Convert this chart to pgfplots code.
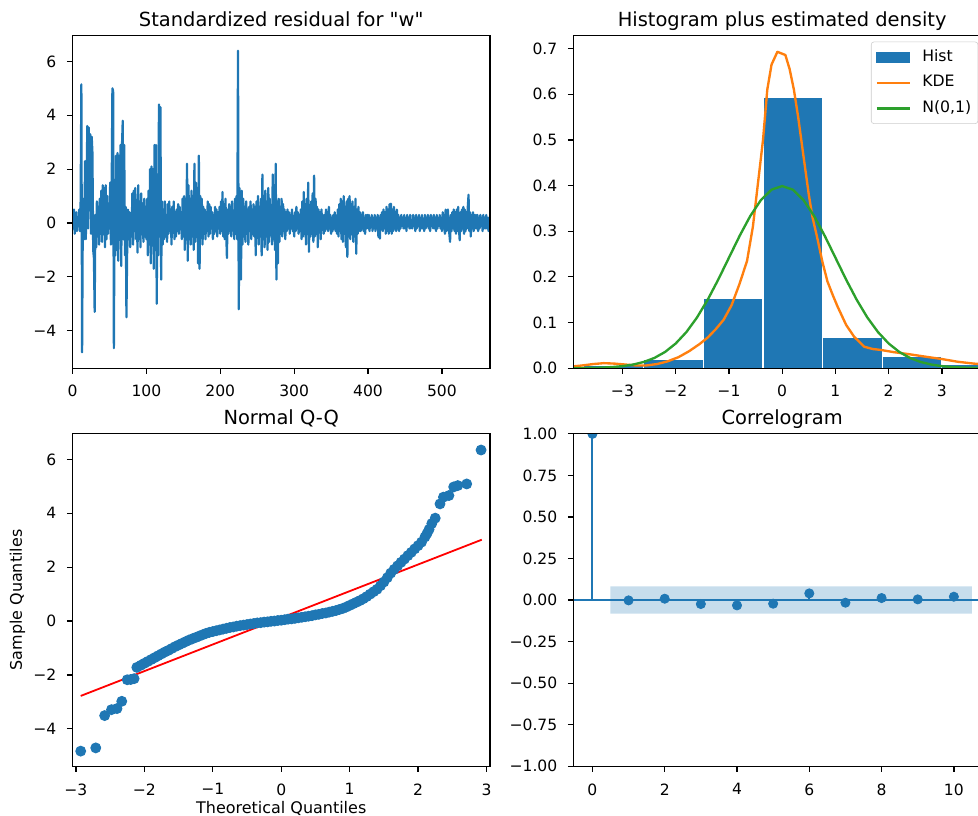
\documentclass[border=0pt]{standalone}
\usepackage{fontspec}
\setmainfont{DejaVu Sans}
\usepackage{pgfplots}
\pgfplotsset{compat=1.18}
\definecolor{tabblue}{RGB}{31,119,180}
\definecolor{taborange}{RGB}{255,127,14}
\definecolor{tabgreen}{RGB}{44,160,44}
\definecolor{mplred}{RGB}{255,0,0}
\newcommand{\dq}{\XeTeXglyph\XeTeXglyphindex "quotedbl" }
\pgfplotsset{mpl/.style={
  scale only axis, width=300.6pt, height=239.3pt, anchor=south west,
  axis line style={black, line width=0.9pt},
  axis on top,
  tick align=outside, tick pos=left,
  major tick length=4pt,
  every tick/.style={black, line width=0.9pt},
  ticklabel style={font=\fontsize{11.2}{13}\selectfont, text=black},
  xticklabel shift=4.9pt, yticklabel shift=4.1pt,
  /pgf/number format/assume math mode=true,
  scaled ticks=false, minor tick num=0,
  every axis title/.style={font=\fontsize{14}{16}\selectfont, at={(axis description cs:0.5,1.0272)}, anchor=base},
  label style={font=\fontsize{11.5}{13}\selectfont},
}}
\begin{document}
\begin{tikzpicture}
\useasboundingbox (0,0) rectangle (704.2pt,587.5pt);
\clip (0,0) rectangle (704.2pt,587.5pt);

% ---------------- Standardized residual ----------------
\begin{axis}[mpl, at={(52.2pt,322.4pt)},
  xmin=0, xmax=565, ymin=-5.39, ymax=6.95,
  xtick={0,100,200,300,400,500},
  ytick={-4,-2,0,2,4,6}, yticklabels={−4,−2,0,2,4,6},
  title={Standardized residual for \dq w\dq}]
\addplot[tabblue, line width=1.6pt, line join=round] table[row sep=\\, header=false, x expr=\coordindex, y index=0] {
0.3\\ -0.2\\ 0.5\\ -0.4\\ 0.1\\ 0.4\\ -0.3\\ 0.2\\ -0.1\\ 0.5\\
-0.3\\ 0.8\\ 5.15\\ -4.8\\ 0.4\\ 0.9\\ -0.6\\ 2.3\\ -0.6\\ 0.9\\
3.6\\ -0.2\\ 3.55\\ 0.7\\ 3.3\\ -0.4\\ 3.2\\ 2.6\\ -1.0\\ -1.3\\
-3.3\\ 0.3\\ -0.9\\ 0.8\\ -0.5\\ 0.6\\ -0.8\\ 0.9\\ -0.4\\ 1.2\\
-0.7\\ 1.4\\ -0.3\\ 1.3\\ -0.9\\ 1.4\\ -0.6\\ 1.0\\ -0.4\\ 0.7\\
-0.2\\ 1.5\\ -0.8\\ 1.2\\ 5.0\\ 4.9\\ -4.65\\ 0.8\\ -1.2\\ 2.5\\
-1.0\\ 2.6\\ -1.4\\ 2.5\\ 0.4\\ 2.9\\ -1.6\\ 2.9\\ 3.8\\ -0.6\\
2.9\\ -1.2\\ 0.6\\ -3.5\\ -1.0\\ 0.5\\ -0.6\\ 0.4\\ -0.9\\ 0.3\\
-0.5\\ 1.1\\ -0.8\\ 1.2\\ -0.3\\ 1.3\\ -0.6\\ 0.7\\ -1.1\\ 1.4\\
-0.4\\ 0.8\\ -0.9\\ 1.1\\ -0.3\\ 0.5\\ -0.7\\ 0.9\\ -0.5\\ 0.6\\
-0.6\\ 0.9\\ -1.2\\ 1.2\\ -0.8\\ 2.0\\ -1.5\\ 2.1\\ -0.6\\ 2.0\\
-1.7\\ 2.9\\ -1.0\\ 2.9\\ -3.0\\ 1.5\\ -1.2\\ 4.4\\ -0.5\\ 4.3\\
-2.1\\ 0.8\\ -0.8\\ 0.5\\ -0.6\\ 0.8\\ -0.5\\ 0.3\\ -0.7\\ 0.7\\
-0.4\\ 0.8\\ -0.3\\ 0.5\\ -0.8\\ 0.6\\ -0.2\\ 0.8\\ -0.6\\ 0.4\\
-0.5\\ 0.5\\ -0.3\\ 0.7\\ -0.4\\ 0.6\\ -0.2\\ 0.4\\ -0.6\\ 0.9\\
-0.5\\ 1.0\\ -1.0\\ 0.9\\ -0.4\\ 2.2\\ -1.4\\ 1.4\\ -0.6\\ 0.9\\
-0.8\\ 1.2\\ -0.5\\ 1.0\\ -1.0\\ 2.2\\ -0.7\\ 1.5\\ -0.4\\ 1.3\\
-1.5\\ 2.5\\ -1.7\\ 1.0\\ -0.5\\ 0.9\\ -0.8\\ 0.6\\ -0.4\\ 0.5\\
-0.6\\ 0.4\\ -0.3\\ 0.8\\ -0.5\\ 0.7\\ -0.4\\ 0.6\\ -0.2\\ 0.4\\
-0.6\\ 0.3\\ -0.4\\ 0.6\\ -0.3\\ 0.5\\ -0.5\\ 0.4\\ -0.2\\ 0.6\\
-0.4\\ 0.8\\ -0.3\\ 1.15\\ -0.5\\ 0.7\\ -0.6\\ 0.9\\ -0.3\\ -1.3\\
0.5\\ -0.4\\ 0.7\\ -0.3\\ 0.6\\ -0.5\\ 0.8\\ -0.2\\ 0.4\\ -0.6\\
0.9\\ -0.4\\ 1.0\\ -0.6\\ 6.4\\ -3.2\\ 1.3\\ -1.0\\ -2.1\\ 1.2\\
-0.8\\ 0.9\\ -0.5\\ 0.6\\ -0.7\\ 0.8\\ -0.4\\ 0.5\\ -0.8\\ 0.6\\
-0.3\\ 0.8\\ -0.6\\ 0.5\\ -0.4\\ 0.7\\ -0.5\\ 0.6\\ -1.2\\ 0.8\\
-0.4\\ 1.0\\ -0.8\\ 0.6\\ -0.5\\ 0.9\\ -1.2\\ 1.8\\ -0.6\\ 1.0\\
-0.9\\ 1.2\\ -0.5\\ 0.8\\ -1.0\\ 1.3\\ -0.7\\ 0.9\\ -0.4\\ 0.6\\
-0.8\\ 1.8\\ -0.6\\ 1.4\\ -1.0\\ 2.2\\ -2.1\\ 0.8\\ -1.5\\ 0.9\\
-0.7\\ 0.6\\ -0.4\\ 0.9\\ -0.5\\ 0.7\\ -0.3\\ 0.5\\ -0.6\\ 0.4\\
-0.3\\ 0.5\\ -0.2\\ 0.4\\ -0.4\\ 0.3\\ -0.2\\ 0.5\\ -0.3\\ 0.2\\
-0.5\\ 0.4\\ -0.3\\ 0.6\\ -0.2\\ 0.4\\ -0.4\\ 0.3\\ -0.3\\ 0.5\\
-0.6\\ 0.8\\ -0.5\\ 1.15\\ -0.4\\ 0.7\\ -0.8\\ 0.9\\ -0.3\\ 1.5\\
-1.07\\ 0.6\\ -0.5\\ 0.8\\ -0.4\\ 1.1\\ -0.7\\ 1.76\\ -0.5\\ 0.9\\
-0.4\\ 0.6\\ -0.9\\ 0.5\\ -0.3\\ 0.4\\ -0.6\\ 0.5\\ -0.2\\ 0.3\\
-0.4\\ 0.3\\ -0.3\\ 0.5\\ -0.2\\ 0.4\\ -0.3\\ 0.6\\ -0.2\\ 0.3\\
-0.4\\ 0.2\\ -0.3\\ 0.3\\ -0.2\\ 0.4\\ -0.3\\ 0.2\\ -0.4\\ 0.5\\
-0.5\\ 0.7\\ -0.3\\ 0.9\\ -0.6\\ 0.8\\ -0.7\\ 1.0\\ -0.4\\ 0.6\\
-0.9\\ 0.8\\ -1.26\\ 0.9\\ -0.5\\ 1.0\\ -0.6\\ 0.7\\ -0.4\\ 0.8\\
-0.7\\ 0.6\\ -0.5\\ 0.9\\ -1.14\\ 0.5\\ -0.4\\ 0.6\\ -0.3\\ 0.4\\
-0.3\\ 0.3\\ -0.2\\ 0.4\\ -0.3\\ 0.2\\ -0.4\\ 0.3\\ -0.2\\ 0.3\\
-0.2\\ 0.3\\ -0.3\\ 0.2\\ -0.1\\ 0.3\\ -0.3\\ 0.2\\ -0.2\\ 0.3\\
-0.3\\ 0.2\\ -0.2\\ 0.3\\ -0.52\\ 0.2\\ -0.58\\ 0.3\\ -0.2\\ 0.4\\
-0.3\\ 0.5\\ -0.2\\ 0.4\\ -0.4\\ 0.6\\ -0.3\\ 0.5\\ -0.4\\ 0.7\\
-0.3\\ 0.72\\ -0.4\\ 0.5\\ -0.3\\ 0.6\\ -0.2\\ 0.4\\ -0.3\\ 0.5\\
-0.2\\ 0.3\\ -0.3\\ 0.2\\ -0.2\\ 0.3\\ -0.1\\ 0.2\\ -0.2\\ 0.3\\
-0.2\\ 0.2\\ -0.3\\ 0.3\\ -0.1\\ 0.2\\ -0.2\\ 0.3\\ -0.2\\ 0.1\\
-0.2\\ 0.3\\ -0.1\\ 0.2\\ -0.3\\ 0.3\\ -0.2\\ 0.2\\ -0.1\\ 0.3\\
-0.3\\ 0.2\\ -0.2\\ 0.3\\ -0.2\\ 0.1\\ -0.3\\ 0.3\\ -0.2\\ 0.2\\
-0.1\\ 0.3\\ -0.2\\ 0.2\\ -0.3\\ 0.3\\ -0.1\\ 0.2\\ -0.2\\ 0.3\\
-0.2\\ 0.2\\ -0.3\\ 0.3\\ -0.2\\ 0.2\\ -0.1\\ 0.3\\ -0.2\\ 0.2\\
-0.3\\ 0.4\\ -0.2\\ 0.3\\ -0.4\\ 0.5\\ -0.3\\ 0.4\\ 0.5\\ -0.2\\
-0.4\\ -0.7\\ 0.3\\ -0.3\\ 0.4\\ -0.2\\ 0.5\\ -0.3\\ 0.4\\ -0.4\\
0.5\\ -0.3\\ 0.6\\ -0.2\\ -0.64\\ 0.4\\ -0.3\\ 0.5\\ -0.2\\ 0.6\\
-0.4\\ 0.5\\ -0.3\\ 0.4\\ -0.2\\ 0.6\\ 1.05\\ -0.3\\ 0.4\\ -0.5\\
0.3\\ -0.2\\ 0.4\\ -0.3\\ 0.3\\ -0.2\\ 0.3\\ -0.2\\ 0.3\\ -0.3\\
0.2\\ -0.2\\ 0.3\\ -0.1\\ 0.2\\ -0.3\\ 0.3\\ -0.2\\ 0.2\\ -0.2\\
0.3\\ -0.2\\ 0.2\\ -0.3\\ 0.2\\ -0.1\\
};
\end{axis}

% ---------------- Histogram plus estimated density ----------------
\begin{axis}[mpl, at={(412.9pt,322.4pt)},
  xmin=-3.92, xmax=3.92, ymin=0, ymax=0.728,
  xtick={-3,-2,-1,0,1,2,3}, xticklabels={−3,−2,−1,0,1,2,3},
  ytick={0,0.1,0.2,0.3,0.4,0.5,0.6,0.7},
  yticklabels={0.0,0.1,0.2,0.3,0.4,0.5,0.6,0.7},
  title={Histogram plus estimated density},
  legend cell align=left,
  legend style={at={(axis description cs:0.7126,1)}, anchor=north west, yshift=-4.2pt,
    draw=black!20, rounded corners=2pt, inner xsep=3.3pt, inner ysep=4pt,
    row sep=4.4pt, font=\fontsize{11.3}{13}\selectfont,
    nodes={text height=8.3pt, text depth=2.7pt, inner sep=1.5pt}}]
\addplot[ybar interval, fill=tabblue, draw=white, line width=0.8pt,
  legend image code/.code={\fill[tabblue, sharp corners] (0pt,-3.6pt) rectangle (23.5pt,3.6pt); \path (30.3pt,0pt);}]
  coordinates {(-4.85,0.0032) (-3.73,0.0063) (-2.61,0.020) (-1.48,0.153) (-0.36,0.594)
  (0.76,0.068) (1.88,0.025) (3.00,0.0079) (4.12,0.0095) (5.24,0.0016) (6.36,0)};
\addlegendentry{Hist}
\addplot[taborange, line width=1.7pt, line join=round,
  legend image code/.code={\draw[taborange, line width=1.7pt, sharp corners] (0pt,0pt) -- (23.5pt,0pt); \path (30.3pt,0pt);}]
  table {
x y
-3.92 0.004
-3.75 0.006
-3.55 0.009
-3.35 0.011
-3.15 0.010
-2.95 0.008
-2.75 0.006
-2.55 0.006
-2.35 0.009
-2.15 0.015
-1.95 0.024
-1.75 0.037
-1.55 0.053
-1.40 0.067
-1.25 0.085
-1.10 0.106
-0.95 0.138
-0.80 0.185
-0.66 0.235
-0.55 0.31
-0.47 0.39
-0.36 0.50
-0.28 0.61
-0.20 0.665
-0.09 0.693
0.06 0.686
0.14 0.655
0.22 0.61
0.30 0.55
0.41 0.456
0.50 0.38
0.57 0.33
0.65 0.29
0.755 0.233
0.85 0.19
0.95 0.16
1.04 0.135
1.20 0.095
1.35 0.069
1.54 0.047
1.70 0.042
1.85 0.040
2.10 0.035
2.36 0.031
2.70 0.025
3.00 0.020
3.30 0.014
3.60 0.010
3.92 0.007
};
\addlegendentry{KDE}
\addplot[tabgreen, line width=1.7pt, line join=round,
  legend image code/.code={\draw[tabgreen, line width=1.7pt, sharp corners] (0pt,0pt) -- (23.5pt,0pt); \path (30.3pt,0pt);}]
  table {
x y
-4.0 0.000134
-3.8 0.000292
-3.6 0.000612
-3.4 0.001232
-3.2 0.002384
-3.0 0.004432
-2.8 0.007915
-2.6 0.013583
-2.4 0.022395
-2.2 0.035475
-2.0 0.053991
-1.8 0.078950
-1.6 0.110921
-1.4 0.149727
-1.2 0.194186
-1.0 0.241971
-0.8 0.289692
-0.6 0.333225
-0.4 0.368270
-0.2 0.391043
0.0 0.398942
0.2 0.391043
0.4 0.368270
0.6 0.333225
0.8 0.289692
1.0 0.241971
1.2 0.194186
1.4 0.149727
1.6 0.110921
1.8 0.078950
2.0 0.053991
2.2 0.035475
2.4 0.022395
2.6 0.013583
2.8 0.007915
3.0 0.004432
3.2 0.002384
3.4 0.001232
3.6 0.000612
3.8 0.000292
4.0 0.000134
};
\addlegendentry{N(0,1)}
\end{axis}

% ---------------- Normal Q-Q ----------------
\begin{axis}[mpl, at={(52.2pt,35.8pt)},
  xmin=-3.05, xmax=3.05, ymin=-5.39, ymax=6.95,
  xtick={-3,-2,-1,0,1,2,3}, xticklabels={−3,−2,−1,0,1,2,3},
  ytick={-4,-2,0,2,4,6}, yticklabels={−4,−2,0,2,4,6},
  title={Normal Q-Q},
  xlabel={Theoretical Quantiles}, ylabel={Sample Quantiles},
  xlabel style={at={(axis description cs:0.5,-0.1412)}, anchor=base},
  ylabel style={at={(axis description cs:-0.1211,0.5)}, anchor=base}]
\addplot[only marks, mark=*, mark size=3.5pt, mark options={fill=tabblue, draw=tabblue, line width=0.8pt}] table {
x y
-2.93 -4.83
-2.71 -4.71
-2.58 -3.51
-2.48 -3.29
-2.40 -3.25
-2.33 -2.98
-2.25 -2.18
-2.20 -2.17
-2.15 -2.14
-2.11 -1.72
-2.05 -1.64
-2.00 -1.57
-1.95 -1.50
-1.90 -1.43
-1.85 -1.36
-1.80 -1.29
-1.75 -1.22
-1.70 -1.15
-1.65 -1.09
-1.60 -1.02
-1.55 -0.95
-1.50 -0.89
-1.45 -0.83
-1.40 -0.77
-1.35 -0.71
-1.30 -0.66
-1.25 -0.61
-1.20 -0.56
-1.15 -0.51
-1.10 -0.46
-1.05 -0.42
-1.00 -0.39
-0.95 -0.36
-0.90 -0.33
-0.85 -0.30
-0.80 -0.27
-0.75 -0.24
-0.70 -0.22
-0.65 -0.19
-0.60 -0.17
-0.55 -0.15
-0.50 -0.13
-0.45 -0.11
-0.40 -0.09
-0.35 -0.07
-0.30 -0.06
-0.25 -0.04
-0.20 -0.03
-0.15 -0.01
-0.10 0.00
-0.05 0.02
0.00 0.03
0.05 0.05
0.10 0.07
0.15 0.08
0.20 0.10
0.25 0.12
0.30 0.14
0.35 0.16
0.40 0.18
0.45 0.20
0.50 0.23
0.55 0.25
0.60 0.28
0.65 0.30
0.70 0.33
0.75 0.36
0.80 0.39
0.85 0.43
0.90 0.47
0.95 0.52
1.00 0.58
1.05 0.64
1.10 0.70
1.15 0.76
1.20 0.83
1.25 0.91
1.30 1.00
1.35 1.09
1.40 1.18
1.45 1.31
1.50 1.45
1.55 1.61
1.60 1.78
1.65 1.92
1.70 2.05
1.75 2.18
1.80 2.30
1.85 2.43
1.90 2.55
1.95 2.68
2.00 2.80
2.05 2.93
2.10 3.12
2.13 3.25
2.16 3.40
2.20 3.62
2.25 3.82
2.32 4.35
2.37 4.60
2.45 4.66
2.52 4.98
2.58 5.03
2.71 5.09
2.92 6.35
};
\addplot[mplred, line width=1.3pt] coordinates {(-2.93,-2.78) (2.93,3.02)};
\end{axis}

% ---------------- Correlogram ----------------
\begin{axis}[mpl, at={(412.9pt,35.8pt)},
  xmin=-0.525, xmax=11.025, ymin=-1, ymax=1,
  clip marker paths=true,
  xtick={0,2,4,6,8,10},
  ytick={-1,-0.75,-0.5,-0.25,0,0.25,0.5,0.75,1},
  yticklabels={−1.00,−0.75,−0.50,−0.25,0.00,0.25,0.50,0.75,1.00},
  title={Correlogram}]
\addplot[draw=none, fill=tabblue, fill opacity=0.25] coordinates {(0.5,-0.082) (0.5,0.082) (10.5,0.082) (10.5,-0.082) (0.5,-0.082)};
\addplot[tabblue, line width=1.4pt] coordinates {(-0.525,0) (11.025,0)};
\addplot[ycomb, tabblue, line width=1.4pt, mark=*, mark size=3.3pt, mark options={fill=tabblue, draw=tabblue, line width=0.6pt}] coordinates {
(0,1) (1,-0.002) (2,0.008) (3,-0.024) (4,-0.032) (5,-0.022) (6,0.040) (7,-0.016) (8,0.012) (9,0.004) (10,0.020)};
\end{axis}
\end{tikzpicture}
\end{document}
